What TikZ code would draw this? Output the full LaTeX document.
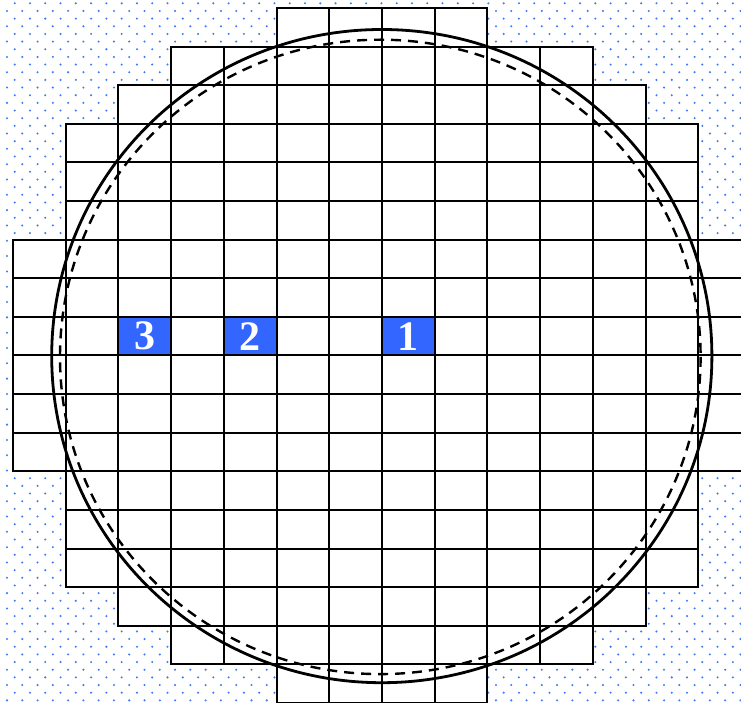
\documentclass[tikz,border=0pt]{standalone}
\usepackage{fontspec}
\setmainfont{Liberation Serif}
\usepackage{tikz}
\usetikzlibrary{positioning}
\definecolor{dotblue}{RGB}{60,125,245}
\definecolor{cellblue}{RGB}{51,102,255}
\tikzset{
  gridcell/.style={draw=black, fill=white, line width=2pt},
  hotcell/.style={draw=black, fill=cellblue, line width=2pt, text=white,
    minimum width=52.72pt, minimum height=38.61pt, inner sep=0pt,
    font=\bfseries\fontsize{42}{42}\selectfont},
  outerring/.style={draw=black, line width=2.8pt},
  innerring/.style={draw=black, line width=2.4pt, dash pattern=on 10pt off 7pt},
  dotfill/.style={fill=dotblue}
}
\begin{document}
\begin{tikzpicture}[x=1pt,y=-1pt]
\clip (0,0) rectangle (741,703);
\fill[white] (0,0) rectangle (741,703);
\foreach \j in {0,...,91} {
\pgfmathsetmacro\dy{3.3+7.66*\j}
\pgfmathsetmacro\dx{isodd(\j) ? 7.0 : 14.7}
\foreach \i in {0,...,48}
\fill[dotfill] ({\dx+15.28*\i},\dy) circle (1.15);
}
\foreach \r/\a/\b in {0/5/8, 1/3/10, 2/2/11, 3/1/12, 4/1/12, 5/1/12,
  6/0/13, 7/0/13, 8/0/13, 9/0/13, 10/0/13, 11/0/13,
  12/1/12, 13/1/12, 14/1/12, 15/2/11, 16/3/10, 17/5/8} {
\foreach \c in {\a,...,\b}
\draw[gridcell] ({13+\c*52.72},{8+\r*38.61}) rectangle ++(52.72,38.61);
}
\node[hotcell] (c3) at ({13+2.5*52.72},{8+8.5*38.61}) {3};
\node[hotcell] (c2) at ({13+4.5*52.72},{8+8.5*38.61}) {2};
\node[hotcell] (c1) at ({13+7.5*52.72},{8+8.5*38.61}) {1};
\draw[outerring] (381.8,356.1) ellipse [x radius=330.1, y radius=326.6];
\draw[innerring] (380.3,356.9) ellipse [x radius=320.3, y radius=317.2];
\end{tikzpicture}
\end{document}
